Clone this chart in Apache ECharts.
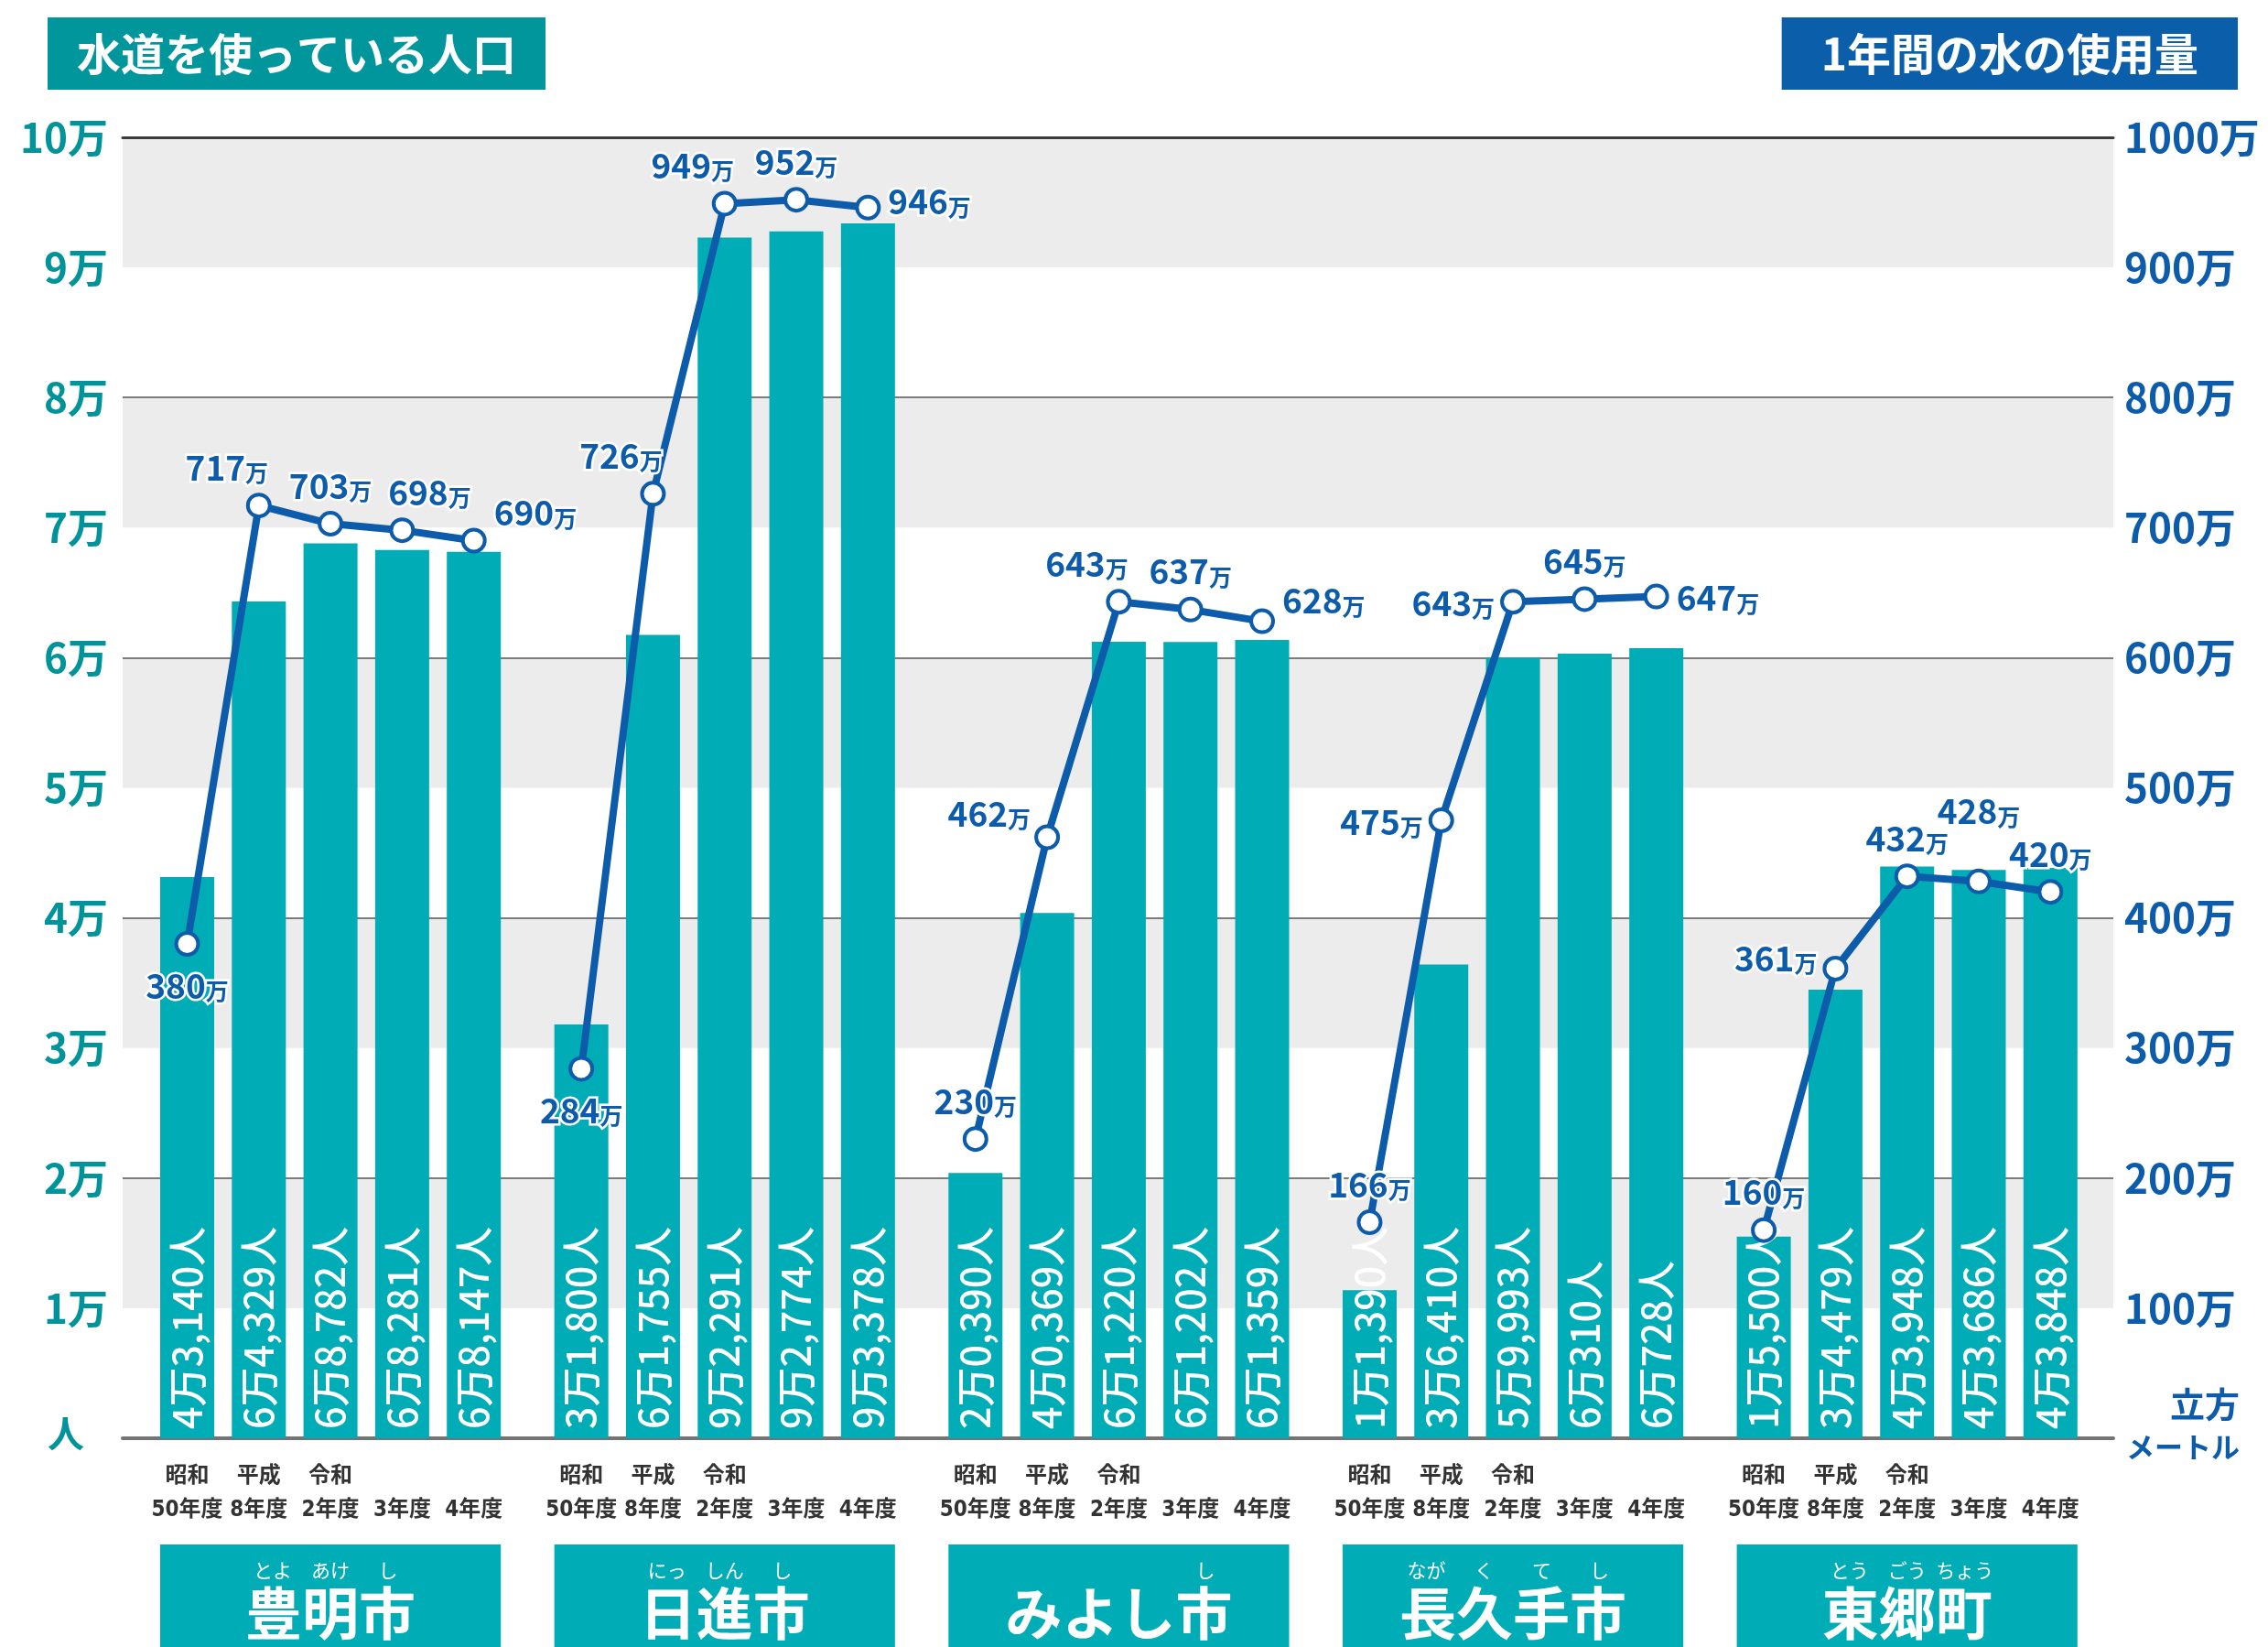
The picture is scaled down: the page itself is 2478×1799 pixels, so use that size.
<!DOCTYPE html>
<html><head><meta charset="utf-8">
<script src="https://cdn.jsdelivr.net/npm/echarts@6/dist/echarts.min.js"></script>
<style>html,body{margin:0;padding:0;background:#fff}#c{width:2478px;height:1799px}</style>
</head><body><div id="c"></div>
<script>
// ---------------- data ----------------
const cities = ['豊明市', '日進市', 'みよし市', '長久手市', '東郷町'];
const cityKana = [['とよ', 'あけ', 'し'], ['にっ', 'しん', 'し'], [' ', ' ', ' ', 'し'], ['なが', 'く', 'て', 'し'], ['とう', 'ごう', 'ちょう']];
const years = ['昭和\n50年度', '平成\n8年度', '令和\n2年度', '\n3年度', '\n4年度'];
const population = [
  [43140, 64329, 68782, 68281, 68147],
  [31800, 61755, 92291, 92774, 93378],
  [20390, 40369, 61220, 61202, 61359],
  [11390, 36410, 59993, 60310, 60728],
  [15500, 34479, 43948, 43686, 43848]
];
const populationText = [
  ['4万3,140人', '6万4,329人', '6万8,782人', '6万8,281人', '6万8,147人'],
  ['3万1,800人', '6万1,755人', '9万2,291人', '9万2,774人', '9万3,378人'],
  ['2万0,390人', '4万0,369人', '6万1,220人', '6万1,202人', '6万1,359人'],
  ['1万1,390人', '3万6,410人', '5万9,993人', '6万310人', '6万728人'],
  ['1万5,500人', '3万4,479人', '4万3,948人', '4万3,686人', '4万3,848人']
];
const waterUse = [ // 万立方メートル
  [380, 717, 703, 698, 690],
  [284, 726, 949, 952, 946],
  [230, 462, 643, 637, 628],
  [166, 475, 643, 645, 647],
  [160, 361, 432, 428, 420]
];
const popAxis = { min: 0, max: 100000, interval: 10000 };
const waterAxis = { min: 0, max: 1000, interval: 100 };
const titles = ['水道を使っている人口', '1年間の水の使用量'];

// ---------------- style ----------------
const waterLabelPlace = [
  ['bottom', 'topL', 'top', 'topR', 'rightU'],
  ['bottom', 'topL', 'topL', 'top', 'rightU2'],
  ['top', 'leftU', 'topL', 'top', 'rightU3'],
  ['top', 'left', 'left', 'top', 'right'],
  ['top', 'leftU2', 'top', 'topHi', 'top']
];
const placeCfg = {
  top: { position: 'top', distance: 9 },
  topL: { position: 'top', distance: 9, offset: [-35, 0] },
  topR: { position: 'top', distance: 9, offset: [30, 0] },
  topHi: { position: 'top', distance: 44 },
  bottom: { position: 'bottom', distance: 10 },
  right: { position: 'right', distance: 8 },
  rightU: { position: 'right', distance: 8, offset: [0, -32] },
  rightU2: { position: 'right', distance: 8, offset: [0, -8] },
  rightU3: { position: 'right', distance: 8, offset: [0, -24] },
  left: { position: 'left', distance: 6 },
  leftU: { position: 'left', distance: 4, offset: [0, -27] },
  leftU2: { position: 'left', distance: 6, offset: [0, -13] }
};
const TEAL = '#00acb5', TEAL_DARK = '#00969b', TEAL_TEXT = '#00939a', BLUE = '#0d5cab', GRAY = '#ececec';
const FONT = '"Noto Sans CJK JP", "Noto Sans", sans-serif';
const plotL = 134, plotR = 2309, plotT = 150, plotB = 1571;
const slot = 78.3, edgeGap = 70.5, groupStep = 5.5, barW = 59;

// ---------------- option ----------------
const grid = [{ left: plotL, top: plotT, width: plotR - plotL, height: plotB - plotT, outerBoundsMode: 'none' }];
const xAxis = [
  { gridIndex: 0, type: 'value', min: 0, max: 1, position: 'bottom',
    axisLine: { show: true, onZero: false, lineStyle: { color: '#747474', width: 4 } },
    axisTick: { show: false }, axisLabel: { show: false }, splitLine: { show: false } },
  { gridIndex: 0, type: 'value', min: 0, max: 1, position: 'top',
    axisLine: { show: true, onZero: false, lineStyle: { color: '#3c3c3c', width: 3 } },
    axisTick: { show: false }, axisLabel: { show: false }, splitLine: { show: false } }
];
const yAxis = [
  { gridIndex: 0, type: 'value', position: 'left', ...popAxis,
    axisLine: { show: false }, axisTick: { show: false },
    axisLabel: { margin: 16, color: TEAL_TEXT, fontSize: 44, fontWeight: 'bold', fontFamily: FONT,
      formatter: v => v === 0 ? '{p|人}' : '{a|' + (v / 10000) + '万}',
      rich: { a: { fontSize: 44, fontWeight: 'bold', color: TEAL_TEXT, fontFamily: FONT },
              p: { fontSize: 40, color: TEAL_TEXT, fontFamily: FONT, padding: [0, 26, 10, 0] } } },
    splitLine: { show: true, lineStyle: { color: ['#7c7c7c', 'rgba(0,0,0,0)'], width: 2 } },
    splitArea: { show: true, areaStyle: { color: ['#ffffff', GRAY] } } },
  { gridIndex: 0, type: 'value', position: 'right', ...waterAxis,
    axisLine: { show: false }, axisTick: { show: false }, splitLine: { show: false }, splitArea: { show: false },
    axisLabel: { margin: 12, color: BLUE, fontSize: 44, fontWeight: 'bold', fontFamily: FONT,
      formatter: v => v === 0 ? '{m1|立方}\n{m2|メートル}\n{sp| }' : '{b|' + v + '万}',
      rich: { b: { fontSize: 44, fontWeight: 'bold', color: BLUE, fontFamily: FONT },
              m1: { fontSize: 38, fontWeight: 'bold', color: BLUE, fontFamily: FONT, width: 126, align: 'right', lineHeight: 47 },
              m2: { fontSize: 31, fontWeight: 'bold', color: BLUE, fontFamily: FONT, width: 126, align: 'right', lineHeight: 47 },
              sp: { fontSize: 10, lineHeight: 28, width: 126 } } } }
];
const series = [];

cities.forEach((city, g) => {
  const gi = grid.length;
  grid.push({ left: plotL + edgeGap - slot / 2 + g * groupStep * slot, top: plotT, width: 5 * slot, height: plotB - plotT, outerBoundsMode: 'none' });
  const xYear = xAxis.length;
  xAxis.push({ gridIndex: gi, type: 'category', data: years, position: 'bottom',
    axisLine: { show: false }, axisTick: { show: false }, splitLine: { show: false },
    axisLabel: { interval: 0, margin: 23, fontSize: 24, fontWeight: 'bold', color: '#333',
      lineHeight: 37, fontFamily: '"Liberation Sans Narrow", "DejaVu Sans Condensed", "Noto Sans CJK JP", sans-serif' } });
  const kana = cityKana[g].map(k => '{f|' + k + '}').join('');
  xAxis.push({ gridIndex: gi, type: 'category', data: [city], position: 'bottom',
    axisLine: { show: false }, axisTick: { show: false }, splitLine: { show: false },
    axisLabel: { interval: 0, margin: 116, backgroundColor: TEAL, width: 4 * slot + barW, padding: [13, 0, 40, 0],
      formatter: () => kana + '\n{c|' + city + '}',
      rich: { f: { fontSize: 21, color: '#fff', width: 63, align: 'center', lineHeight: 30, fontFamily: FONT },
              c: { fontSize: 62, color: '#fff', fontWeight: 'bold', lineHeight: 64, align: 'center', fontFamily: FONT } } } });
  const yPop = yAxis.length;
  yAxis.push({ gridIndex: gi, type: 'value', position: 'left', show: false, ...popAxis, splitLine: { show: false } });
  const yWater = yAxis.length;
  yAxis.push({ gridIndex: gi, type: 'value', position: 'right', show: false, ...waterAxis, splitLine: { show: false } });

  series.push({ type: 'bar', name: city + '人口', xAxisIndex: xYear, yAxisIndex: yPop,
    data: population[g], barWidth: barW, itemStyle: { color: TEAL }, z: 2,
    label: { show: true, position: 'insideBottom', rotate: 90, align: 'left', verticalAlign: 'middle', distance: 10,
      color: '#fff', fontSize: 43, fontWeight: 500, fontFamily: FONT,
      formatter: p => populationText[g][p.dataIndex] } });

  series.push({ type: 'line', name: city + '水量', xAxisIndex: xYear, yAxisIndex: yWater,
    data: waterUse[g].map((v, i) => ({ value: v, label: placeCfg[waterLabelPlace[g][i]] })),
    symbol: 'circle', symbolSize: 24, z: 5,
    lineStyle: { color: BLUE, width: 8 },
    itemStyle: { color: '#fff', borderColor: BLUE, borderWidth: 4 },
    label: { show: true, formatter: p => '{n|' + p.value + '}{u|万}',
      rich: { n: { fontSize: 37, fontWeight: 'bold', color: BLUE, fontFamily: FONT, textBorderColor: '#fff', textBorderWidth: 5, verticalAlign: 'bottom', lineHeight: 40 },
              u: { fontSize: 25, fontWeight: 'bold', color: BLUE, fontFamily: FONT, textBorderColor: '#fff', textBorderWidth: 5, verticalAlign: 'bottom', lineHeight: 40 } } } });
});

const option = {
  animation: false,
  backgroundColor: '#fff',
  textStyle: { fontFamily: FONT },
  title: [
    { text: titles[0], left: 52, top: 19, backgroundColor: TEAL_DARK, padding: [14, 32],
      textStyle: { color: '#fff', fontSize: 48, fontWeight: 'bold', lineHeight: 51, fontFamily: FONT } },
    { text: titles[1], right: 33, top: 19, backgroundColor: '#0b5ea9', padding: [14, 43],
      textStyle: { color: '#fff', fontSize: 48, fontWeight: 'bold', lineHeight: 51, fontFamily: FONT } }
  ],
  grid, xAxis, yAxis, series
};
const chart = echarts.init(document.getElementById('c'), null, { renderer: 'canvas' });
chart.setOption(option);
</script></body></html>
